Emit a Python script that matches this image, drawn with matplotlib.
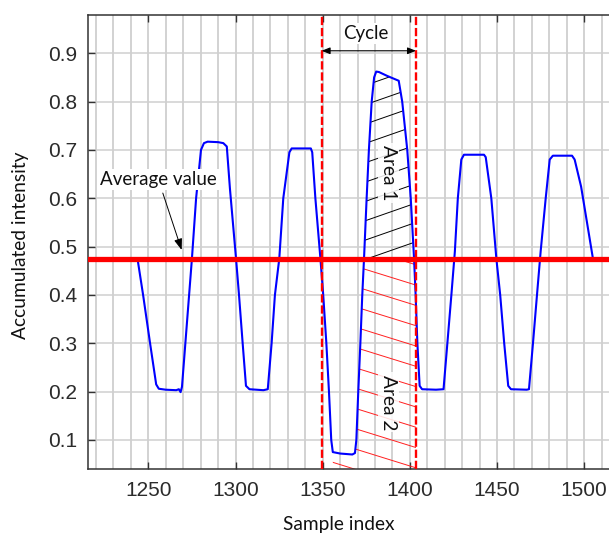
import numpy as np
import matplotlib
matplotlib.use('Agg')
import matplotlib.pyplot as plt
from matplotlib.collections import LineCollection
from matplotlib.patches import PathPatch
from matplotlib.ticker import MultipleLocator

# ---- data ----
sample_index = [1244, 1247, 1251, 1254.5, 1256, 1260, 1266, 1267.5, 1268.5, 1269.3,
                1275, 1277.4, 1280.2, 1281.9, 1284, 1290, 1293, 1295,
                1296.8, 1300.3, 1302, 1304.1, 1306, 1308, 1316, 1318.5,
                1320.7, 1322.6, 1325.1, 1327.4, 1330.9, 1332.2, 1343.2, 1344,
                1345.8, 1348.7, 1350.3, 1352.1, 1353.6, 1354.9, 1355.8, 1360, 1367, 1368.5,
                1369.3, 1370.4, 1371.6, 1372.7, 1373.7, 1375.2, 1376.5, 1378.1, 1379.5, 1380.7,
                1382.3, 1387, 1393.6,
                1395.6, 1398.5, 1400.5, 1402.4, 1403.3, 1404.3, 1405.6, 1407, 1415, 1419.3,
                1421.5, 1423.8, 1425.8, 1427.5, 1429.5, 1431, 1442.5, 1443.5,
                1446.7, 1449.6, 1451.8, 1454.1, 1456.4, 1458, 1467, 1468.3,
                1470.6, 1472.9, 1475, 1477.9, 1480.2, 1482, 1493, 1494.5, 1498.2, 1505, 1506, 1514]
intensity = [0.470, 0.40, 0.30, 0.215, 0.206, 0.204, 0.203, 0.205, 0.199, 0.21,
             0.475, 0.60, 0.70, 0.714, 0.717, 0.716, 0.714, 0.707,
             0.62, 0.475, 0.40, 0.30, 0.212, 0.205, 0.203, 0.205,
             0.30, 0.40, 0.475, 0.60, 0.695, 0.703, 0.703, 0.695,
             0.60, 0.475, 0.40, 0.30, 0.20, 0.10, 0.075, 0.072, 0.070, 0.073,
             0.10, 0.20, 0.30, 0.40, 0.475, 0.60, 0.70, 0.80, 0.85, 0.862,
             0.861, 0.853, 0.843,
             0.80, 0.70, 0.60, 0.475, 0.40, 0.30, 0.212, 0.205, 0.204, 0.205,
             0.30, 0.40, 0.49, 0.60, 0.68, 0.69, 0.69, 0.685,
             0.60, 0.475, 0.40, 0.30, 0.212, 0.205, 0.204, 0.205,
             0.30, 0.40, 0.49, 0.60, 0.68, 0.688, 0.688, 0.68, 0.624, 0.475, 0.472, 0.472]
average_value = 0.475
cycle_bounds = [1349.4, 1403.5]
x_ticks = [1250, 1300, 1350, 1400, 1450, 1500]
y_ticks = [0.1, 0.2, 0.3, 0.4, 0.5, 0.6, 0.7, 0.8, 0.9]
x_limits = [1215.4, 1514.2]
y_limits = [0.04, 0.979]

x = np.array(sample_index)
y = np.array(intensity)

label_font = ['Lato', 'DejaVu Sans']
tick_font = ['Liberation Sans', 'DejaVu Sans']

fig = plt.figure(figsize=(6.09, 5.36), dpi=100)
ax = fig.add_axes([88/609, 67/536, 521/609, 454/536])
ax.set_xlim(*x_limits)
ax.set_ylim(*y_limits)

# grid
ax.xaxis.set_major_locator(MultipleLocator(50))
ax.xaxis.set_minor_locator(MultipleLocator(10))
ax.set_yticks(y_ticks)
ax.grid(which='both', axis='x', color='#c6c6c6', lw=1.1, zorder=0)
ax.grid(which='major', axis='y', color='#d0d0d0', lw=1.1, zorder=0)
ax.set_axisbelow(True)

ax.set_xticks(x_ticks)
ax.set_xticklabels([str(v) for v in x_ticks], fontfamily=tick_font, fontsize=15, color='#2b2b2b')
ax.set_yticklabels([f'{v:.1f}' for v in y_ticks], fontfamily=tick_font, fontsize=15, color='#2b2b2b')
ax.tick_params(axis='x', which='major', direction='in', length=5, width=1.0, top=True, bottom=True,
               color='#333333', pad=9)
ax.tick_params(axis='x', which='minor', length=0, top=False, bottom=False)
ax.tick_params(axis='y', which='major', direction='in', length=5, width=1.0, left=True, right=False,
               color='#333333', pad=8)
for side in ['left', 'bottom', 'top']:
    ax.spines[side].set_color('#333333')
    ax.spines[side].set_linewidth(1.1)
ax.spines['right'].set_visible(False)

# signal
ax.plot(x, y, color='#0000ff', lw=1.5, zorder=3)

# average and cycle
ax.axhline(average_value, color='#ff0000', lw=3.8, zorder=4)
for cb in cycle_bounds:
    ax.axvline(cb, color='#ff0000', lw=1.7, ls=(0, (3.5, 1.2)), zorder=5)

# hatched areas
xf = np.linspace(cycle_bounds[0], cycle_bounds[1], 3000)
yf = np.interp(xf, x, y)

def hatch_region(poly, slope, spacing, color, lw):
    path = poly.get_paths()[0]
    verts = path.vertices
    xmin, xmax = verts[:, 0].min() - 5, verts[:, 0].max() + 5
    ymin, ymax = verts[:, 1].min(), verts[:, 1].max()
    span = abs(slope) * (xmax - xmin)
    offsets = np.arange(ymin - span - spacing, ymax + span + spacing, spacing)
    segs = [[(xmin, c), (xmax, c + slope * (xmax - xmin))] for c in offsets]
    pp = PathPatch(path, transform=ax.transData, facecolor='none', edgecolor='none')
    ax.add_patch(pp)
    lc = LineCollection(segs, colors=color, linewidths=lw, zorder=2)
    ax.add_collection(lc)
    lc.set_clip_path(pp)

m1 = yf >= average_value
poly1 = ax.fill_between(xf, average_value, yf, where=m1, interpolate=True,
                        facecolor='none', edgecolor='none')
hatch_region(poly1, 0.00126, 0.04, 'black', 0.7)

dip_start = xf[np.argmax(yf <= yf.min() + 0.005)]
m2 = xf >= dip_start
poly2 = ax.fill_between(xf, y_limits[0], np.minimum(yf, average_value), where=m2,
                        facecolor='none', edgecolor='none')
hatch_region(poly2, -0.00112, 0.042, '#ff2020', 0.7)

bbox = dict(facecolor='white', edgecolor='none', alpha=0.85, pad=1.5)
ax.text(1387.6, 0.652, 'Area 1', rotation=270, ha='center', va='center', fontsize=13.8,
        fontfamily=label_font, color='#111111', bbox=bbox, zorder=6)
ax.text(1387.6, 0.178, 'Area 2', rotation=270, ha='center', va='center', fontsize=13.8,
        fontfamily=label_font, color='#111111', bbox=bbox, zorder=6)

# cycle arrow
ax.annotate('', xy=(cycle_bounds[0], 0.905), xytext=(cycle_bounds[1], 0.905),
            arrowprops=dict(arrowstyle='<|-|>,head_length=0.5,head_width=0.2', color='black',
                            lw=0.8, shrinkA=0, shrinkB=0), zorder=6)
ax.text(1374.7, 0.941, 'Cycle', ha='center', va='center', fontsize=13.5, fontfamily=label_font,
        color='#111111', bbox=dict(facecolor='white', edgecolor='none', pad=1.5), zorder=6)

# average value annotation
ax.annotate('Average value', xy=(1269.1, 0.493), xytext=(1255.8, 0.638),
            ha='center', va='center', fontsize=13.5, fontfamily=label_font, color='#111111',
            bbox=dict(facecolor='white', edgecolor='none', pad=1.5),
            arrowprops=dict(arrowstyle='-|>,head_length=0.5,head_width=0.18', color='black',
                            lw=0.7, shrinkA=2, shrinkB=0), zorder=6)

ax.set_xlabel('Sample index', fontsize=13.8, fontfamily=label_font, color='#111111')
ax.set_ylabel('Accumulated intensity', fontsize=13.8, fontfamily=label_font, color='#111111')
ax.xaxis.set_label_coords(0.482, -0.1035)
ax.yaxis.set_label_coords(-0.113, 0.493)

fig.savefig('out.png', dpi=100)
